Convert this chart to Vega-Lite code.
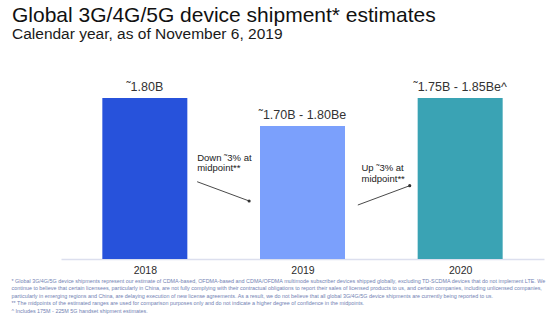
{
  "$schema": "https://vega.github.io/schema/vega-lite/v6.json",
  "autosize": "none",
  "width": 483,
  "height": 189,
  "padding": {"left": 61, "top": 70, "right": 14, "bottom": 67},
  "config": {
    "view": {"stroke": null},
    "font": "Liberation Sans",
    "title": {"font": "Liberation Sans", "subtitleFont": "Liberation Sans"}
  },
  "title": {
    "text": "Global 3G/4G/5G device shipment* estimates",
    "subtitle": "Calendar year, as of November 6, 2019",
    "anchor": "start",
    "frame": "group",
    "dx": -49,
    "fontSize": 21,
    "fontWeight": "normal",
    "color": "#111111",
    "subtitleFontSize": 15.5,
    "subtitleColor": "#1a1a1a",
    "subtitlePadding": 1,
    "offset": 28
  },
  "layer": [
    {
      "data": {"values": [
        {"year": 2018, "value": 1.80, "label": "˜1.80B", "series": "2018"},
        {"year": 2019, "value": 1.75, "label": "˜1.70B - 1.80Be", "series": "2019"},
        {"year": 2020, "value": 1.80, "label": "˜1.75B - 1.85Be^", "series": "2020"}
      ]},
      "mark": {"type": "bar", "width": 85, "clip": true},
      "encoding": {
        "x": {
          "field": "year", "type": "quantitative",
          "scale": {"domain": [2017.5, 2020.5], "nice": false, "zero": false},
          "axis": {
            "values": [2018, 2019, 2020], "format": "d", "grid": false, "ticks": false,
            "domainColor": "#dcdfee", "domainWidth": 1.5,
            "labelFontSize": 10.5, "labelColor": "#2b2b2b", "labelPadding": 6,
            "title": [
              "* Global 3G/4G/5G device shipments represent our estimate of CDMA-based, OFDMA-based and CDMA/OFDMA multimode subscriber devices shipped globally, excluding TD-SCDMA devices that do not implement LTE. We",
              "continue to believe that certain licensees, particularly in China, are not fully complying with their contractual obligations to report their sales of licensed products to us, and certain companies, including unlicensed companies,",
              "particularly in emerging regions and China, are delaying execution of new license agreements. As a result, we do not believe that all global 3G/4G/5G device shipments are currently being reported to us.",
              "** The midpoints of the estimated ranges are used for comparison purposes only and do not indicate a higher degree of confidence in the midpoints.",
              "^ Includes 175M - 225M 5G handset shipment estimates."
            ],
            "titleFontSize": 5.4, "titleFontWeight": "normal", "titleColor": "#7282b3",
            "titleAlign": "left", "titleAnchor": "start", "titleBaseline": "top",
            "titleX": -50, "titleY": 19.5, "titleLineHeight": 7.4
          }
        },
        "y": {
          "field": "value", "type": "quantitative",
          "scale": {"domain": [1.5125, 1.85], "nice": false, "zero": false},
          "axis": null
        },
        "y2": {"datum": 1.5125},
        "color": {
          "field": "series", "type": "nominal",
          "scale": {"domain": ["2018", "2019", "2020"], "range": ["#2752db", "#7ba0fc", "#3aa3b4"]},
          "legend": null
        }
      }
    },
    {
      "data": {"values": [
        {"year": 2018, "value": 1.80, "label": "˜1.80B"},
        {"year": 2019, "value": 1.75, "label": "˜1.70B - 1.80Be"},
        {"year": 2020, "value": 1.80, "label": "˜1.75B - 1.85Be^"}
      ]},
      "mark": {"type": "text", "baseline": "bottom", "dy": -4, "fontSize": 12.5, "color": "#333333"},
      "encoding": {
        "x": {"field": "year", "type": "quantitative"},
        "y": {"field": "value", "type": "quantitative"},
        "text": {"field": "label"}
      }
    },
    {
      "data": {"values": [
        {"year": 2018.332, "value": 1.7018, "note": "Down ˜3% at\nmidpoint**"},
        {"year": 2019.374, "value": 1.6839, "note": "Up ˜3% at\nmidpoint**"}
      ]},
      "mark": {"type": "text", "align": "left", "baseline": "top", "fontSize": 9.5, "lineHeight": 10.5, "lineBreak": "\n", "color": "#222222"},
      "encoding": {
        "x": {"field": "year", "type": "quantitative"},
        "y": {"field": "value", "type": "quantitative"},
        "text": {"field": "note"}
      }
    },
    {
      "data": {"values": [
        {"year": 2018.332, "value": 1.6505, "year2": 2018.6615, "value2": 1.6161},
        {"year": 2019.351, "value": 1.6089, "year2": 2019.680, "value2": 1.6434}
      ]},
      "mark": {"type": "rule", "color": "#4a4a4a", "strokeWidth": 1},
      "encoding": {
        "x": {"field": "year", "type": "quantitative"},
        "y": {"field": "value", "type": "quantitative"},
        "x2": {"field": "year2"},
        "y2": {"field": "value2"}
      }
    },
    {
      "data": {"values": [
        {"year": 2018.6615, "value": 1.6161},
        {"year": 2019.680, "value": 1.6434}
      ]},
      "mark": {"type": "point", "filled": true, "size": 10, "color": "#333333", "opacity": 1},
      "encoding": {
        "x": {"field": "year", "type": "quantitative"},
        "y": {"field": "value", "type": "quantitative"}
      }
    }
  ]
}
